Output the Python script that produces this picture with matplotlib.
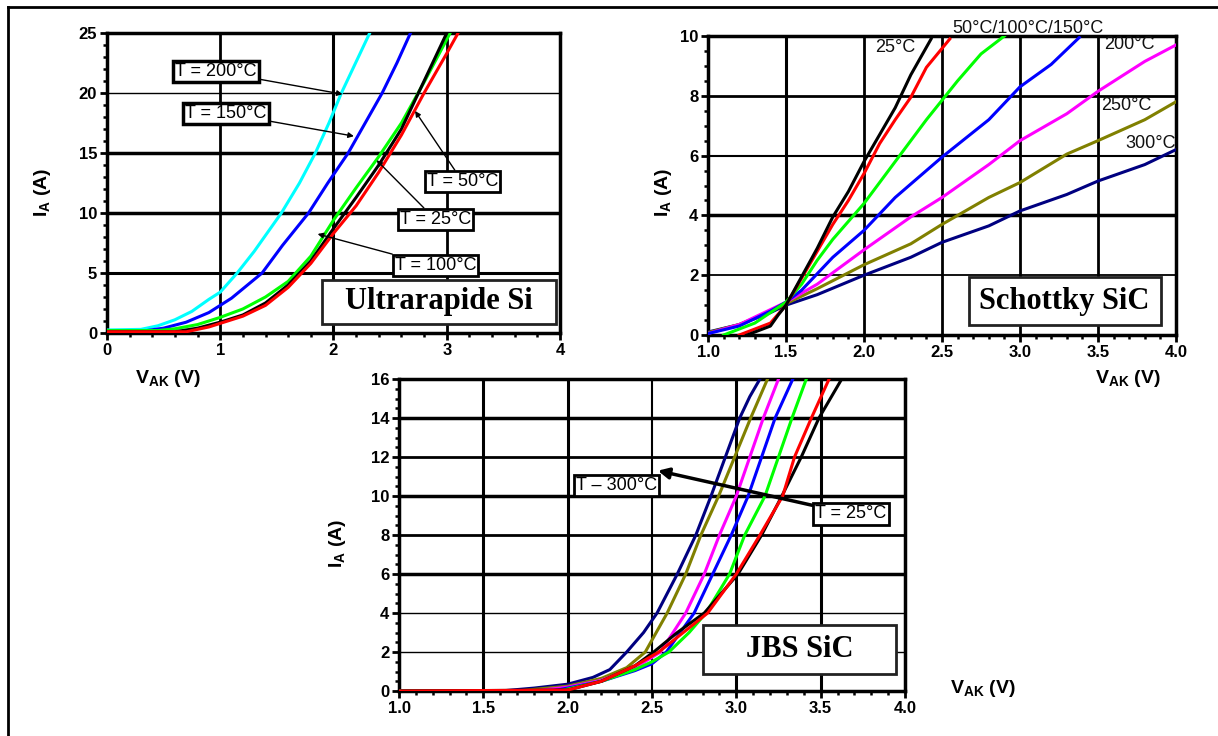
import matplotlib
matplotlib.use("Agg")
import matplotlib.pyplot as plt
from matplotlib.patches import Rectangle
from matplotlib.lines import Line2D
from matplotlib.ticker import MultipleLocator

plt.rcParams['font.family'] = ['Liberation Sans', 'DejaVu Sans']
plt.rcParams['mathtext.fontset'] = 'custom'
plt.rcParams['mathtext.bf'] = 'Liberation Sans:bold'
plt.rcParams['mathtext.rm'] = 'Liberation Sans'

# ---- Ultrarapide Si : V_AK (V) / I_A (A) ----
si_200_v = [0, 0.3, 0.45, 0.6, 0.75, 0.9, 1.0, 1.15, 1.3, 1.54, 1.7, 1.84, 1.96, 2.07, 2.2, 2.32]
si_200_i = [0.25, 0.3, 0.6, 1.1, 1.8, 2.8, 3.4, 5.0, 6.8, 10.0, 12.5, 15.0, 17.5, 20.0, 22.6, 25.0]
si_150_v = [0, 0.35, 0.5, 0.7, 0.9, 1.1, 1.37, 1.55, 1.78, 1.95, 2.13, 2.28, 2.43, 2.56, 2.68]
si_150_i = [0.2, 0.2, 0.4, 0.9, 1.7, 2.9, 5.0, 7.3, 10.0, 12.5, 15.0, 17.5, 20.0, 22.5, 25.0]
si_100_v = [0, 0.45, 0.6, 0.8, 1.0, 1.2, 1.4, 1.6, 1.8, 2.0, 2.2, 2.4, 2.6, 2.8, 3.03]
si_100_i = [0.2, 0.2, 0.35, 0.7, 1.3, 2.0, 3.0, 4.3, 6.4, 9.4, 12.1, 14.7, 17.5, 20.9, 25.0]
si_25_v = [0, 0.6, 0.8, 1.0, 1.2, 1.4, 1.6, 1.8, 2.0, 2.2, 2.4, 2.6, 2.8, 3.0]
si_25_i = [0.1, 0.1, 0.4, 0.9, 1.5, 2.5, 4.0, 6.0, 8.7, 11.3, 14.0, 17.0, 21.0, 25.0]
si_50_v = [0, 0.7, 0.9, 1.0, 1.2, 1.4, 1.6, 1.8, 2.0, 2.2, 2.4, 2.6, 2.8, 3.0, 3.1]
si_50_i = [0.1, 0.1, 0.5, 0.8, 1.4, 2.3, 3.8, 5.8, 8.3, 10.6, 13.4, 16.5, 20.0, 23.3, 25.0]

# ---- Schottky SiC ----
sch_25_v = [1.25, 1.4, 1.45, 1.5, 1.6, 1.7, 1.8, 1.9, 2.0, 2.1, 2.2, 2.3, 2.43]
sch_25_i = [0, 0.3, 0.67, 1.0, 1.95, 2.9, 3.95, 4.8, 5.8, 6.7, 7.6, 8.7, 9.9]
sch_50_v = [1.2, 1.4, 1.5, 1.6, 1.7, 1.8, 1.9, 2.0, 2.1, 2.2, 2.3, 2.4, 2.55]
sch_50_i = [0, 0.4, 1.0, 1.9, 2.8, 3.7, 4.5, 5.4, 6.4, 7.2, 7.95, 8.95, 9.9]
sch_100_v = [1.1, 1.3, 1.5, 1.6, 1.7, 1.8, 2.0, 2.2, 2.4, 2.6, 2.75, 2.9]
sch_100_i = [0, 0.4, 1.1, 1.7, 2.5, 3.2, 4.4, 5.8, 7.2, 8.5, 9.4, 10.0]
sch_150_v = [1.0, 1.2, 1.4, 1.5, 1.6, 1.8, 2.0, 2.2, 2.5, 2.8, 3.0, 3.2, 3.38]
sch_150_i = [0.05, 0.3, 0.8, 1.1, 1.5, 2.6, 3.5, 4.6, 5.95, 7.2, 8.3, 9.05, 9.95]
sch_hot_v = [1.0, 1.2, 1.4, 1.5, 1.7, 2.0, 2.3, 2.5, 2.8, 3.0, 3.3, 3.5, 3.8, 4.0]
sch_200_i = [0.05, 0.35, 0.85, 1.1, 1.7, 2.85, 3.95, 4.6, 5.7, 6.5, 7.4, 8.15, 9.15, 9.7]
sch_250_i = [0.08, 0.35, 0.8, 1.05, 1.55, 2.35, 3.05, 3.7, 4.6, 5.1, 6.05, 6.5, 7.2, 7.8]
sch_300_i = [0.1, 0.35, 0.75, 1.0, 1.35, 2.0, 2.6, 3.1, 3.65, 4.15, 4.7, 5.15, 5.7, 6.2]

# ---- JBS SiC ----
jbs_300_v = [1.0, 1.6, 1.8, 2.0, 2.15, 2.25, 2.35, 2.45, 2.53, 2.65, 2.76, 2.85, 2.935, 3.02, 3.08, 3.14]
jbs_300_i = [0, 0, 0.15, 0.35, 0.7, 1.1, 2.0, 3.0, 4.0, 6.0, 8.0, 10.0, 12.0, 14.0, 15.1, 16.0]
jbs_250_v = [1.0, 1.7, 2.0, 2.2, 2.35, 2.46, 2.59, 2.7, 2.79, 2.895, 2.99, 3.085, 3.185]
jbs_250_i = [0, 0, 0.25, 0.65, 1.2, 2.0, 4.0, 6.0, 8.0, 10.0, 12.0, 14.0, 16.0]
jbs_200_v = [1.0, 1.8, 2.0, 2.2, 2.4, 2.55, 2.7, 2.81, 2.9, 3.0, 3.08, 3.16, 3.25]
jbs_200_i = [0, 0, 0.2, 0.55, 1.2, 2.0, 4.0, 6.0, 8.0, 10.0, 12.0, 14.0, 16.0]
jbs_150_v = [1.0, 1.9, 2.0, 2.2, 2.4, 2.5, 2.585, 2.75, 2.86, 2.97, 3.07, 3.15, 3.23, 3.335]
jbs_150_i = [0, 0, 0.15, 0.5, 1.05, 1.4, 2.0, 4.0, 6.0, 8.0, 10.0, 12.0, 14.0, 16.0]
jbs_100_v = [1.0, 1.95, 2.0, 2.2, 2.4, 2.5, 2.6, 2.72, 2.82, 2.96, 3.05, 3.17, 3.25, 3.33, 3.415]
jbs_100_i = [0, 0, 0.1, 0.5, 1.1, 1.5, 2.0, 3.0, 4.0, 6.0, 8.0, 10.0, 12.0, 14.0, 16.0]
jbs_50_v = [1.0, 2.0, 2.2, 2.4, 2.54, 2.7, 2.83, 3.0, 3.14, 3.275, 3.345, 3.445, 3.55]
jbs_50_i = [0, 0.05, 0.5, 1.3, 2.0, 3.1, 4.0, 6.0, 8.0, 10.0, 12.0, 14.0, 16.0]
jbs_25_v = [1.0, 2.0, 2.2, 2.4, 2.51, 2.65, 2.81, 3.01, 3.15, 3.27, 3.385, 3.49, 3.625]
jbs_25_i = [0, 0.05, 0.5, 1.3, 2.0, 3.0, 4.0, 6.0, 8.0, 10.0, 12.0, 14.0, 16.0]

# tick labels
si_xticks = [0, 1, 2, 3, 4]
si_yticks = [0, 5, 10, 15, 20, 25]
sic_xticks = [1.0, 1.5, 2.0, 2.5, 3.0, 3.5, 4.0]
sch_yticks = [0, 2, 4, 6, 8, 10]
jbs_yticks = [0, 2, 4, 6, 8, 10, 12, 14, 16]

fig = plt.figure(figsize=(12.18, 7.36), dpi=100)

ax1 = fig.add_axes([0.0878, 0.5476, 0.372, 0.4076])
ax2 = fig.add_axes([0.5813, 0.5448, 0.3842, 0.4063])
ax3 = fig.add_axes([0.3276, 0.0611, 0.4154, 0.4239])


def style(ax, xt, yt, xminor, yminor, xfmt, vgrid, hgrid):
    ax.set_xlim(xt[0], xt[-1])
    ax.set_ylim(yt[0], yt[-1])
    ax.set_xticks(xt)
    ax.set_yticks(yt)
    ax.set_xticklabels([xfmt.format(v) for v in xt])
    ax.set_yticklabels([str(v) for v in yt])
    ax.xaxis.set_minor_locator(MultipleLocator(xminor))
    ax.yaxis.set_minor_locator(MultipleLocator(yminor))
    ax.tick_params(which='major', direction='out', length=5, width=2, labelsize=12, pad=2)
    ax.tick_params(which='minor', direction='out', length=3, width=1.8)
    for lab in ax.get_xticklabels() + ax.get_yticklabels():
        lab.set_fontweight('bold')
    for s in ax.spines.values():
        s.set_linewidth(2.5)
    # grid lines of uneven weight, as on the scan
    for x, lw in zip(xt[1:-1], vgrid):
        ax.axvline(x, color='k', lw=lw, zorder=1)
    for y, lw in zip(yt[1:-1], hgrid):
        ax.axhline(y, color='k', lw=lw, zorder=1)


def title_box(ax, x0, y0, x1, y1, text):
    ax.add_patch(Rectangle((x0, y0), x1 - x0, y1 - y0, transform=ax.transAxes,
                           facecolor='white', edgecolor='#222222', lw=2, zorder=5))
    ax.text((x0 + x1) / 2, (y0 + y1) / 2, text, transform=ax.transAxes,
            ha='center', va='center', fontsize=22, fontweight='bold',
            family='Liberation Serif', zorder=6)


def tag(ax, text, xy, xytext, lw=1.0, ms=8, blw=2):
    ax.annotate(text, xy=xy, xytext=xytext, fontsize=13, ha='center', va='center',
                bbox=dict(boxstyle='square,pad=0.12', fc='white', ec='black', lw=blw),
                arrowprops=dict(arrowstyle='-|>', color='k', lw=lw, mutation_scale=ms,
                                shrinkA=0, shrinkB=0),
                zorder=7)


lw_curve = 2.2

# (1) Ultrarapide Si
style(ax1, si_xticks, si_yticks, 0.2, 1, '{:d}', [2, 2.2, 2], [2.2, 2.5, 2.5, 1])
ax1.plot(si_200_v, si_200_i, color='#00ffff', lw=lw_curve, zorder=3)
ax1.plot(si_150_v, si_150_i, color='#0000ff', lw=lw_curve, zorder=3)
ax1.plot(si_100_v, si_100_i, color='#00ff00', lw=lw_curve, zorder=3)
ax1.plot(si_25_v, si_25_i, color='black', lw=lw_curve, zorder=3)
ax1.plot(si_50_v, si_50_i, color='#ff0000', lw=lw_curve, zorder=3)
tag(ax1, 'T = 200°C', (2.08, 19.9), (0.96, 21.8), blw=2.5)
tag(ax1, 'T = 150°C', (2.18, 16.4), (1.05, 18.3), blw=2.5)
tag(ax1, 'T = 50°C', (2.72, 18.5), (3.14, 12.6))
tag(ax1, 'T = 25°C', (2.38, 14.4), (2.9, 9.45))
tag(ax1, 'T = 100°C', (1.86, 8.25), (2.9, 5.6))
title_box(ax1, 0.475, 0.03, 0.99, 0.178, 'Ultrarapide Si')

# (2) Schottky SiC
style(ax2, sic_xticks, sch_yticks, 0.1, 0.5, '{:.1f}', [2.2, 2, 2, 2, 2], [1.3, 2.5, 1.5, 2])
ax2.plot(sch_hot_v, sch_300_i, color='#000080', lw=lw_curve, zorder=3)
ax2.plot(sch_hot_v, sch_250_i, color='#808000', lw=lw_curve, zorder=3)
ax2.plot(sch_hot_v, sch_200_i, color='#ff00ff', lw=lw_curve, zorder=3)
ax2.plot(sch_150_v, sch_150_i, color='#0000ff', lw=lw_curve, zorder=3)
ax2.plot(sch_100_v, sch_100_i, color='#00ff00', lw=lw_curve, zorder=3)
ax2.plot(sch_50_v, sch_50_i, color='#ff0000', lw=lw_curve, zorder=3)
ax2.plot(sch_25_v, sch_25_i, color='black', lw=lw_curve, zorder=3)
for txt, x, y in [('25°C', 2.2, 9.6), ('50°C/100°C/150°C', 3.05, 10.25),
                  ('200°C', 3.7, 9.7), ('250°C', 3.68, 7.67), ('300°C', 3.84, 6.4)]:
    ax2.text(x, y, txt, fontsize=13, ha='center', va='center', color='#111111', zorder=4)
title_box(ax2, 0.557, 0.033, 0.967, 0.194, 'Schottky SiC')

# (3) JBS SiC
style(ax3, sic_xticks, jbs_yticks, 0.1, 0.5, '{:.1f}', [2.2, 2.2, 1.5, 2.2, 2.2],
      [1, 1, 2.5, 2, 2.5, 2, 2.5])
ax3.plot(jbs_300_v, jbs_300_i, color='#000080', lw=lw_curve, zorder=3)
ax3.plot(jbs_250_v, jbs_250_i, color='#808000', lw=lw_curve, zorder=3)
ax3.plot(jbs_200_v, jbs_200_i, color='#ff00ff', lw=lw_curve, zorder=3)
ax3.plot(jbs_150_v, jbs_150_i, color='#0000ff', lw=lw_curve, zorder=3)
ax3.plot(jbs_100_v, jbs_100_i, color='#00ff00', lw=lw_curve, zorder=3)
ax3.plot(jbs_25_v, jbs_25_i, color='black', lw=lw_curve, zorder=3)
ax3.plot(jbs_50_v, jbs_50_i, color='#ff0000', lw=lw_curve, zorder=3)
ax3.text(2.29, 10.55, 'T – 300°C', fontsize=13, ha='center', va='center', zorder=7,
         bbox=dict(boxstyle='square,pad=0.12', fc='white', ec='black', lw=2))
tag(ax3, 'T = 25°C', (2.535, 11.3), (3.68, 9.08), lw=2.5, ms=16)
title_box(ax3, 0.6, 0.056, 0.983, 0.2125, 'JBS SiC')

# axis labels
lab_kw = dict(fontsize=14, fontweight='bold', ha='center', va='center')
fig.text(0.0353, 0.739, r'$\mathbf{I_A}$ (A)', rotation=90, **lab_kw)
fig.text(0.138, 0.486, r'$\mathbf{V_{AK}}$ (V)', **lab_kw)
fig.text(0.545, 0.739, r'$\mathbf{I_A}$ (A)', rotation=90, **lab_kw)
fig.text(0.926, 0.486, r'$\mathbf{V_{AK}}$ (V)', **lab_kw)
fig.text(0.2775, 0.262, r'$\mathbf{I_A}$ (A)', rotation=90, **lab_kw)
fig.text(0.807, 0.065, r'$\mathbf{V_{AK}}$ (V)', **lab_kw)

# scanned page frame
fig.add_artist(Line2D([0.0066, 1.0], [0.9905, 0.9905], transform=fig.transFigure, color='k', lw=2))
fig.add_artist(Line2D([0.0066, 0.0066], [0.0, 0.9905], transform=fig.transFigure, color='k', lw=2))

fig.savefig('out.png', dpi=100)
